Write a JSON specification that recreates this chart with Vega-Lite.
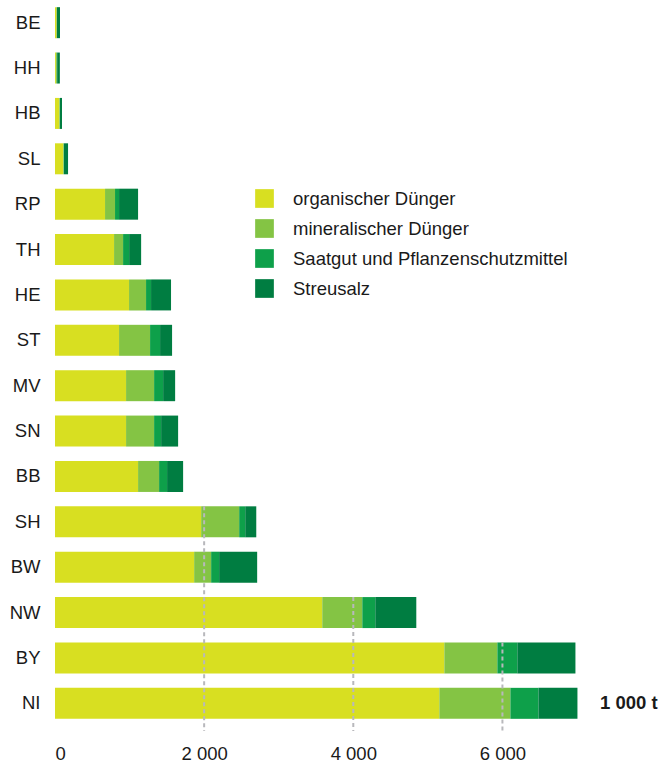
{
  "$schema": "https://vega.github.io/schema/vega-lite/v6.json",
  "autosize": "none",
  "width": 522,
  "height": 726,
  "padding": {"left": 55, "top": 0, "right": 85, "bottom": 37},
  "background": "white",
  "config": {
    "view": {"stroke": null},
    "font": "Liberation Sans"
  },
  "layer": [
    {
      "data": {
        "values": [
          {"state": "BE", "category": "organischer Dünger", "ord": 1, "value": 22},
          {"state": "BE", "category": "mineralischer Dünger", "ord": 2, "value": 2},
          {"state": "BE", "category": "Saatgut und Pflanzenschutzmittel", "ord": 3, "value": 1},
          {"state": "BE", "category": "Streusalz", "ord": 4, "value": 42},
          {"state": "HH", "category": "organischer Dünger", "ord": 1, "value": 12},
          {"state": "HH", "category": "mineralischer Dünger", "ord": 2, "value": 12},
          {"state": "HH", "category": "Saatgut und Pflanzenschutzmittel", "ord": 3, "value": 5},
          {"state": "HH", "category": "Streusalz", "ord": 4, "value": 36},
          {"state": "HB", "category": "organischer Dünger", "ord": 1, "value": 58},
          {"state": "HB", "category": "mineralischer Dünger", "ord": 2, "value": 6},
          {"state": "HB", "category": "Saatgut und Pflanzenschutzmittel", "ord": 3, "value": 3},
          {"state": "HB", "category": "Streusalz", "ord": 4, "value": 27},
          {"state": "SL", "category": "organischer Dünger", "ord": 1, "value": 112},
          {"state": "SL", "category": "mineralischer Dünger", "ord": 2, "value": 5},
          {"state": "SL", "category": "Saatgut und Pflanzenschutzmittel", "ord": 3, "value": 4},
          {"state": "SL", "category": "Streusalz", "ord": 4, "value": 54},
          {"state": "RP", "category": "organischer Dünger", "ord": 1, "value": 671},
          {"state": "RP", "category": "mineralischer Dünger", "ord": 2, "value": 134},
          {"state": "RP", "category": "Saatgut und Pflanzenschutzmittel", "ord": 3, "value": 54},
          {"state": "RP", "category": "Streusalz", "ord": 4, "value": 255},
          {"state": "TH", "category": "organischer Dünger", "ord": 1, "value": 792},
          {"state": "TH", "category": "mineralischer Dünger", "ord": 2, "value": 121},
          {"state": "TH", "category": "Saatgut und Pflanzenschutzmittel", "ord": 3, "value": 81},
          {"state": "TH", "category": "Streusalz", "ord": 4, "value": 161},
          {"state": "HE", "category": "organischer Dünger", "ord": 1, "value": 993},
          {"state": "HE", "category": "mineralischer Dünger", "ord": 2, "value": 228},
          {"state": "HE", "category": "Saatgut und Pflanzenschutzmittel", "ord": 3, "value": 67},
          {"state": "HE", "category": "Streusalz", "ord": 4, "value": 268},
          {"state": "ST", "category": "organischer Dünger", "ord": 1, "value": 859},
          {"state": "ST", "category": "mineralischer Dünger", "ord": 2, "value": 416},
          {"state": "ST", "category": "Saatgut und Pflanzenschutzmittel", "ord": 3, "value": 134},
          {"state": "ST", "category": "Streusalz", "ord": 4, "value": 161},
          {"state": "MV", "category": "organischer Dünger", "ord": 1, "value": 953},
          {"state": "MV", "category": "mineralischer Dünger", "ord": 2, "value": 376},
          {"state": "MV", "category": "Saatgut und Pflanzenschutzmittel", "ord": 3, "value": 121},
          {"state": "MV", "category": "Streusalz", "ord": 4, "value": 161},
          {"state": "SN", "category": "organischer Dünger", "ord": 1, "value": 953},
          {"state": "SN", "category": "mineralischer Dünger", "ord": 2, "value": 376},
          {"state": "SN", "category": "Saatgut und Pflanzenschutzmittel", "ord": 3, "value": 94},
          {"state": "SN", "category": "Streusalz", "ord": 4, "value": 228},
          {"state": "BB", "category": "organischer Dünger", "ord": 1, "value": 1114},
          {"state": "BB", "category": "mineralischer Dünger", "ord": 2, "value": 282},
          {"state": "BB", "category": "Saatgut und Pflanzenschutzmittel", "ord": 3, "value": 107},
          {"state": "BB", "category": "Streusalz", "ord": 4, "value": 215},
          {"state": "SH", "category": "organischer Dünger", "ord": 1, "value": 1960},
          {"state": "SH", "category": "mineralischer Dünger", "ord": 2, "value": 510},
          {"state": "SH", "category": "Saatgut und Pflanzenschutzmittel", "ord": 3, "value": 81},
          {"state": "SH", "category": "Streusalz", "ord": 4, "value": 148},
          {"state": "BW", "category": "organischer Dünger", "ord": 1, "value": 1866},
          {"state": "BW", "category": "mineralischer Dünger", "ord": 2, "value": 228},
          {"state": "BW", "category": "Saatgut und Pflanzenschutzmittel", "ord": 3, "value": 107},
          {"state": "BW", "category": "Streusalz", "ord": 4, "value": 510},
          {"state": "NW", "category": "organischer Dünger", "ord": 1, "value": 3584},
          {"state": "NW", "category": "mineralischer Dünger", "ord": 2, "value": 537},
          {"state": "NW", "category": "Saatgut und Pflanzenschutzmittel", "ord": 3, "value": 174},
          {"state": "NW", "category": "Streusalz", "ord": 4, "value": 550},
          {"state": "BY", "category": "organischer Dünger", "ord": 1, "value": 5221},
          {"state": "BY", "category": "mineralischer Dünger", "ord": 2, "value": 711},
          {"state": "BY", "category": "Saatgut und Pflanzenschutzmittel", "ord": 3, "value": 268},
          {"state": "BY", "category": "Streusalz", "ord": 4, "value": 779},
          {"state": "NI", "category": "organischer Dünger", "ord": 1, "value": 5154},
          {"state": "NI", "category": "mineralischer Dünger", "ord": 2, "value": 953},
          {"state": "NI", "category": "Saatgut und Pflanzenschutzmittel", "ord": 3, "value": 376},
          {"state": "NI", "category": "Streusalz", "ord": 4, "value": 523}
        ]
      },
      "mark": {"type": "bar"},
      "encoding": {
        "y": {
          "field": "state",
          "type": "nominal",
          "scale": {
            "domain": ["BE","HH","HB","SL","RP","TH","HE","ST","MV","SN","BB","SH","BW","NW","BY","NI"],
            "paddingInner": 0.317,
            "paddingOuter": 0.158
          },
          "axis": {
            "title": null,
            "domain": false,
            "ticks": false,
            "labelFontSize": 18.5,
            "labelColor": "#1a1a1a",
            "labelPadding": 15
          }
        },
        "x": {
          "field": "value",
          "type": "quantitative",
          "stack": "zero",
          "scale": {"domain": [0, 7000], "nice": false},
          "axis": {
            "title": null,
            "domain": false,
            "ticks": false,
            "grid": false,
            "values": [0, 2000, 4000, 6000],
            "labelExpr": "replace(format(datum.value, ','), ',', ' ')",
            "labelFlush": true,
            "labelFontSize": 18.5,
            "labelColor": "#1a1a1a",
            "labelPadding": 18
          }
        },
        "order": {"field": "ord", "type": "quantitative", "sort": "ascending"},
        "color": {
          "field": "category",
          "type": "nominal",
          "scale": {
            "domain": ["organischer Dünger", "mineralischer Dünger", "Saatgut und Pflanzenschutzmittel", "Streusalz"],
            "range": ["#d8df21", "#84c444", "#0ea04a", "#007d41"]
          },
          "legend": {
            "title": null,
            "orient": "none",
            "legendX": 200,
            "legendY": 189,
            "padding": 0,
            "symbolType": "square",
            "symbolSize": 350,
            "symbolStrokeWidth": 0,
            "symbolOpacity": 1,
            "labelFontSize": 18.5,
            "labelColor": "#1a1a1a",
            "labelOffset": 19,
            "rowPadding": 11,
            "labelLimit": 400
          }
        }
      }
    },
    {
      "data": {
        "values": [
          {"value": 2000, "from": "SH"},
          {"value": 4000, "from": "NW"},
          {"value": 6000, "from": "BY"}
        ]
      },
      "mark": {"type": "rule", "color": "#b8b8bc", "strokeWidth": 2, "strokeDash": [4, 3], "y2Offset": 5},
      "encoding": {
        "x": {"field": "value", "type": "quantitative"},
        "y": {"field": "from", "type": "nominal", "bandPosition": 0},
        "y2": {"value": "height"}
      }
    },
    {
      "data": {"values": [{"label": "1 000 t", "state": "NI", "value": 7000}]},
      "mark": {"type": "text", "align": "left", "baseline": "middle", "dx": 23, "fontSize": 18.5, "fontWeight": "bold", "color": "#1a1a1a"},
      "encoding": {
        "x": {"field": "value", "type": "quantitative"},
        "y": {"field": "state", "type": "nominal"},
        "text": {"field": "label"}
      }
    }
  ]
}
